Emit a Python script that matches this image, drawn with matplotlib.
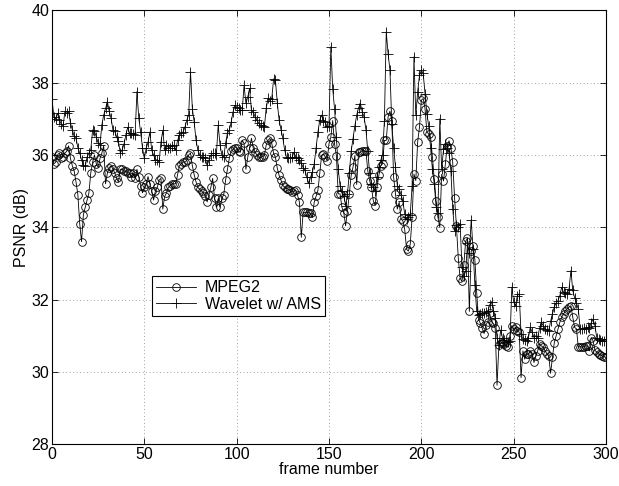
import numpy as np
import matplotlib
matplotlib.use("Agg")
import matplotlib.pyplot as plt

plt.rcParams['font.family'] = ['Liberation Sans', 'DejaVu Sans']

# PSNR per frame (frames 0..300)
mpeg2 = [
    35.95, 35.75, 35.8, 36.0, 36.05, 35.9, 35.95, 36.05, 36.1, 36.25,
    35.9, 35.7, 35.55, 35.25, 34.9, 34.1, 33.6, 34.35, 34.55, 34.75,
    34.95, 35.5, 35.8, 36.0, 35.75, 35.65, 35.9, 36.05, 36.25, 35.2,
    35.5, 35.65, 35.7, 35.6, 35.5, 35.35, 35.25, 35.6, 35.6, 35.55,
    35.55, 35.5, 35.5, 35.4, 35.5, 35.35, 35.6, 35.4, 35.15, 34.95,
    35.1, 35.2, 35.4, 35.2, 35.0, 34.75, 35.0, 35.1, 35.3, 35.35,
    34.5, 34.85, 34.95, 35.1, 35.15, 35.2, 35.2, 35.2, 35.45, 35.7,
    35.75, 35.8, 35.8, 35.85, 36.0, 36.05, 35.7, 35.45, 35.25, 35.1,
    35.05, 35.0, 34.95, 34.85, 34.7, 34.9, 35.1, 35.35, 34.8, 34.55,
    34.8, 34.55, 34.8, 34.9, 35.3, 35.6, 35.9, 36.1, 36.15, 36.2,
    36.2, 36.1, 36.07, 36.4, 36.32, 35.6, 35.93, 36.2, 36.46, 36.18,
    36.07, 35.99, 35.93, 35.93, 35.95, 35.99, 36.27, 36.4, 36.46, 36.32,
    36.04, 35.93, 35.63, 35.43, 35.3, 35.16, 35.1, 35.07, 35.05, 35.02,
    34.97, 35.0, 35.02, 34.88, 34.69, 33.72, 34.41, 34.41, 34.41, 34.4,
    34.38, 34.27, 34.69, 34.85, 35.02, 35.49, 35.99, 36.03, 35.94, 35.84,
    36.31, 36.49, 36.95, 36.3, 35.98, 34.92, 34.92, 34.55, 34.4, 34.04,
    34.45, 34.92, 35.43, 35.66, 35.98, 35.18, 36.07, 36.07, 36.12, 36.12,
    36.1, 35.56, 35.29, 35.1, 34.73, 34.6, 35.1, 35.43, 35.7, 35.75,
    36.4, 36.4, 37.05, 37.21, 36.95, 35.38, 34.92, 34.5, 34.69, 34.22,
    34.18, 33.94, 33.39, 33.34, 33.53, 34.27, 35.47, 35.29, 36.35, 36.77,
    37.51, 37.56, 37.28, 36.63, 36.58, 36.49, 35.94, 35.33, 34.73, 34.27,
    33.99, 35.46, 35.28, 35.74, 36.25, 36.39, 36.2, 35.79, 34.81, 34.03,
    33.15, 32.59, 32.5, 32.96, 33.61, 33.7, 31.67, 33.33, 33.47, 33.1,
    32.18, 31.44, 31.34, 31.2, 31.06, 31.3, 31.39, 31.62, 31.39, 31.34,
    31.2, 29.63, 30.74, 30.79, 30.79, 30.77, 30.72, 30.7, 31.0, 31.28,
    31.19, 31.23, 31.14, 31.1, 29.84, 30.58, 30.35, 30.49, 30.49, 30.58,
    30.49, 30.26, 30.45, 30.58, 30.77, 30.72, 30.68, 30.58, 30.5, 30.44,
    29.96, 30.4, 30.81, 31.0, 31.19, 31.37, 31.51, 31.6, 31.69, 31.74,
    31.79, 31.83, 31.51, 31.23, 31.19, 30.68, 30.7, 30.68, 30.7, 30.72,
    30.72, 30.58, 30.95, 30.86, 30.6, 30.54, 30.49, 30.47, 30.44, 30.42,
    30.4,
]

wavelet = [
    37.55, 37.05, 37.0, 37.15, 36.97, 36.85, 36.8, 37.2, 37.15, 37.2,
    36.88, 36.7, 36.51, 36.46, 36.2, 36.05, 35.86, 35.72, 35.68, 35.94,
    36.05, 36.14, 36.69, 36.65, 36.5, 36.32, 36.28, 36.83, 37.1, 37.29,
    37.47, 37.2, 37.01, 36.69, 36.65, 36.5, 36.37, 36.05, 36.14, 36.3,
    36.55, 36.76, 36.6, 36.6, 36.57, 36.55, 37.75, 37.01, 36.63, 36.2,
    35.9, 36.18, 36.35, 36.63, 36.13, 36.0, 35.85, 35.87, 35.8, 36.35,
    36.68, 36.13, 36.27, 36.2, 36.2, 36.25, 36.27, 36.13, 36.4, 36.54,
    36.6, 36.63, 36.77, 36.96, 37.1, 38.3, 37.28, 36.9, 36.4, 36.13,
    36.0, 35.93, 35.93, 35.9, 35.71, 35.85, 35.99, 36.04, 36.04, 36.0,
    36.82, 36.27, 35.99, 35.93, 36.32, 36.6, 36.68, 36.9, 37.18, 37.37,
    37.32, 37.3, 37.23, 37.23, 37.92, 37.43, 37.6, 37.84, 37.23, 37.18,
    37.05, 36.96, 36.87, 36.82, 36.8, 36.77, 37.29, 37.57, 37.5, 37.55,
    38.1, 38.06, 37.43, 36.96, 36.7, 36.46, 36.13, 35.93, 35.9, 35.92,
    35.93, 36.07, 35.95, 35.9, 35.85, 35.77, 35.65, 35.57, 35.38, 35.21,
    35.38, 35.52, 35.75, 36.18, 36.63, 36.96, 37.1, 36.95, 36.9, 36.77,
    36.8, 38.99, 37.83, 37.28, 36.5, 35.6, 35.15, 35.0, 34.87, 34.6,
    34.92, 35.5, 36.1, 36.45, 36.8, 37.1, 37.3, 37.42, 37.19, 37.05,
    36.7, 36.1, 35.5, 35.19, 35.1, 35.0, 35.38, 35.66, 35.85, 36.0,
    36.95, 39.4, 38.8, 38.34, 36.86, 36.2, 35.66, 35.15, 35.06, 34.9,
    34.73, 34.36, 34.22, 34.27, 34.35, 35.15, 38.71, 37.09, 37.74, 38.2,
    38.34, 38.25, 37.69, 37.14, 36.8, 36.2, 35.6, 35.2, 34.56, 34.4,
    37.0, 35.6, 36.15, 36.3, 36.2, 36.05, 35.56, 34.5, 33.9, 34.05,
    34.0, 34.1, 32.9, 32.65, 32.78, 33.55, 33.3, 34.2, 33.4, 32.4,
    31.67, 31.57, 31.6, 31.62, 31.62, 31.65, 31.67, 31.85, 31.94, 31.67,
    31.48, 30.93, 30.74, 31.16, 30.93, 30.88, 30.83, 30.83, 30.85, 32.34,
    31.93, 31.83, 32.11, 32.16, 31.05, 30.91, 30.88, 30.86, 30.95, 31.23,
    31.1, 30.95, 31.0, 30.95, 31.2, 31.37, 31.28, 31.19, 31.16, 31.14,
    31.4, 31.6, 31.8, 31.9, 31.97, 32.11, 32.34, 32.2, 32.18, 32.16,
    32.3, 32.8, 32.25, 32.05, 31.9, 31.74, 31.19, 31.19, 31.2, 31.19,
    31.23, 31.22, 31.35, 31.46, 31.28, 30.95, 30.91, 30.88, 30.86, 30.86,
    30.9,
]

frames = np.arange(len(mpeg2))

fig = plt.figure(figsize=(6.19, 4.86), dpi=100)
ax = fig.add_axes([0.084, 0.086, 0.895, 0.893])

ax.plot(frames, mpeg2, color='k', lw=0.6, marker='o', ms=5.5,
        mfc='none', mec='k', mew=0.6, label='MPEG2')
ax.plot(np.arange(len(wavelet)), wavelet, color='k', lw=0.6, marker='+',
        ms=6.5, mec='k', mew=0.6, label='Wavelet w/ AMS')

ax.set_xlim(0, 300)
ax.set_ylim(28, 40)
ax.set_xticks(np.arange(0, 301, 50))
ax.set_yticks(np.arange(28, 41, 2))
ax.tick_params(direction='in', length=4, width=0.6, labelsize=11.5,
               top=True, right=True, pad=2)
ax.grid(True, color='0.3', ls=(0, (1, 4)), lw=0.5)
for s in ax.spines.values():
    s.set_linewidth(0.8)

ax.set_xlabel('frame number', fontsize=11.5, labelpad=0)
ax.set_ylabel('PSNR (dB)', fontsize=11.5, labelpad=2)

leg = ax.legend(loc='upper left', bbox_to_anchor=(0.18, 0.387),
                numpoints=1, fancybox=False, framealpha=1, edgecolor='k',
                fontsize=11.5, borderpad=0.25, handlelength=2.5,
                labelspacing=0.1, borderaxespad=0, handletextpad=0.6)
leg.get_frame().set_linewidth(0.8)

fig.savefig('out.png', dpi=100)
